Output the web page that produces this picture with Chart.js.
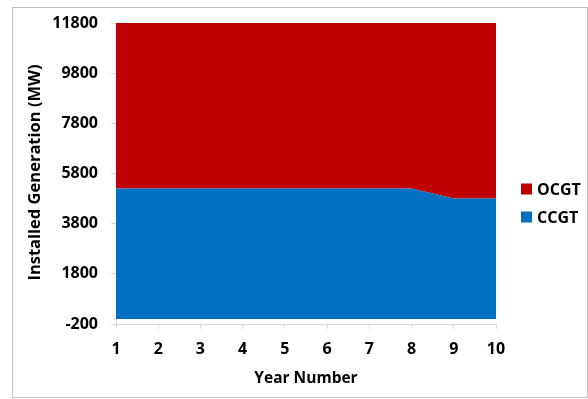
<!DOCTYPE html>
<html>
<head>
<meta charset="utf-8">
<script src="https://cdn.jsdelivr.net/npm/chart.js@4.4.1/dist/chart.umd.min.js"></script>
<style>
  html, body { margin: 0; padding: 0; background: #fff; }
  #wrap { width: 588px; height: 399px; position: relative; }
</style>
</head>
<body>
<div id="wrap"><canvas id="c" width="588" height="399"></canvas></div>
<script>
// Installed generation by plant type over the planning horizon
const years = ['1', '2', '3', '4', '5', '6', '7', '8', '9', '10'];
const ccgt = [5200, 5200, 5200, 5200, 5200, 5200, 5200, 5200, 4800, 4800];
const ocgt = [6600, 6600, 6600, 6600, 6600, 6600, 6600, 6600, 7000, 7000];
const yTicks = [-200, 1800, 3800, 5800, 7800, 9800, 11800];
const seriesNames = ['CCGT', 'OCGT'];
const seriesColors = ['#0070C0', '#C00000'];
const yTitle = 'Installed Generation (MW)';

const FONT = '"Open Sans", sans-serif';

// Outer frame around the whole chart
const framePlugin = {
  id: 'frame',
  beforeDraw(chart) {
    const ctx = chart.ctx;
    ctx.save();
    ctx.fillStyle = '#ffffff';
    ctx.fillRect(0, 0, chart.width, chart.height);
    ctx.strokeStyle = '#c0c0c0';
    ctx.lineWidth = 1;
    ctx.strokeRect(12.5, 7.5, chart.width - 13, chart.height - 9);
    ctx.restore();
  }
};

// Vertical axis title, centred on the plot area
const yTitlePlugin = {
  id: 'yTitle',
  afterDraw(chart) {
    const ctx = chart.ctx;
    const { top, bottom } = chart.chartArea;
    ctx.save();
    ctx.translate(35, (top + bottom) / 2 - 1);
    ctx.rotate(-Math.PI / 2);
    ctx.font = 'bold 16.5px ' + FONT;
    ctx.fillStyle = '#000';
    ctx.textAlign = 'center';
    ctx.textBaseline = 'middle';
    ctx.fillText(yTitle, 0, 0);
    ctx.restore();
  }
};

// Legend at the right, top series listed first
const sideLegend = {
  id: 'sideLegend',
  afterDraw(chart) {
    const ctx = chart.ctx;
    const items = chart.data.datasets.map(d => ({ label: d.label, color: d.backgroundColor })).reverse();
    const x = chart.chartArea.right + 25;
    let y = 189;
    ctx.save();
    ctx.font = 'bold 16px ' + FONT;
    ctx.textBaseline = 'middle';
    ctx.textAlign = 'left';
    items.forEach(it => {
      ctx.fillStyle = it.color;
      ctx.fillRect(x, y - 5.5, 11, 11);
      ctx.fillStyle = '#000';
      ctx.fillText(it.label, x + 16, y + 1);
      y += 28;
    });
    ctx.restore();
  }
};

new Chart(document.getElementById('c'), {
  type: 'line',
  data: {
    labels: years,
    datasets: [
      {
        label: seriesNames[0],
        data: ccgt,
        backgroundColor: seriesColors[0],
        borderColor: seriesColors[0],
        borderWidth: 0,
        pointRadius: 0,
        fill: 'origin',
        tension: 0
      },
      {
        label: seriesNames[1],
        data: ocgt,
        backgroundColor: seriesColors[1],
        borderColor: seriesColors[1],
        borderWidth: 0,
        pointRadius: 0,
        fill: '-1',
        tension: 0
      }
    ]
  },
  options: {
    responsive: false,
    animation: false,
    layout: { padding: { left: 12, right: 92, top: 23, bottom: 0 } },
    plugins: {
      legend: { display: false },
      tooltip: { enabled: false }
    },
    scales: {
      x: {
        offset: false,
        grid: { drawOnChartArea: false, tickLength: 5, color: '#d9d9d9' },
        border: { color: '#d9d9d9' },
        ticks: { color: '#000', font: { family: FONT, size: 16, weight: 'bold' }, padding: 11, maxRotation: 0 },
        title: { display: true, text: 'Year Number', color: '#000', font: { family: FONT, size: 15.5, weight: 'bold' }, padding: { top: 0, bottom: 11 } },
        afterFit(scale) { scale.height = 75; }
      },
      y: {
        stacked: true,
        min: -200,
        max: 11800,
        afterBuildTicks(scale) { scale.ticks = yTicks.map(v => ({ value: v })); },
        grid: { drawOnChartArea: false, tickLength: 5, color: '#d9d9d9' },
        border: { color: '#d9d9d9' },
        ticks: {
          color: '#000',
          font: { family: FONT, size: 16, weight: 'bold' },
          padding: 13,
          callback: v => String(v)
        },
        title: { display: false },
        afterFit(scale) { scale.width = 104; }
      }
    }
  },
  plugins: [framePlugin, yTitlePlugin, sideLegend]
});
</script>
</body>
</html>
